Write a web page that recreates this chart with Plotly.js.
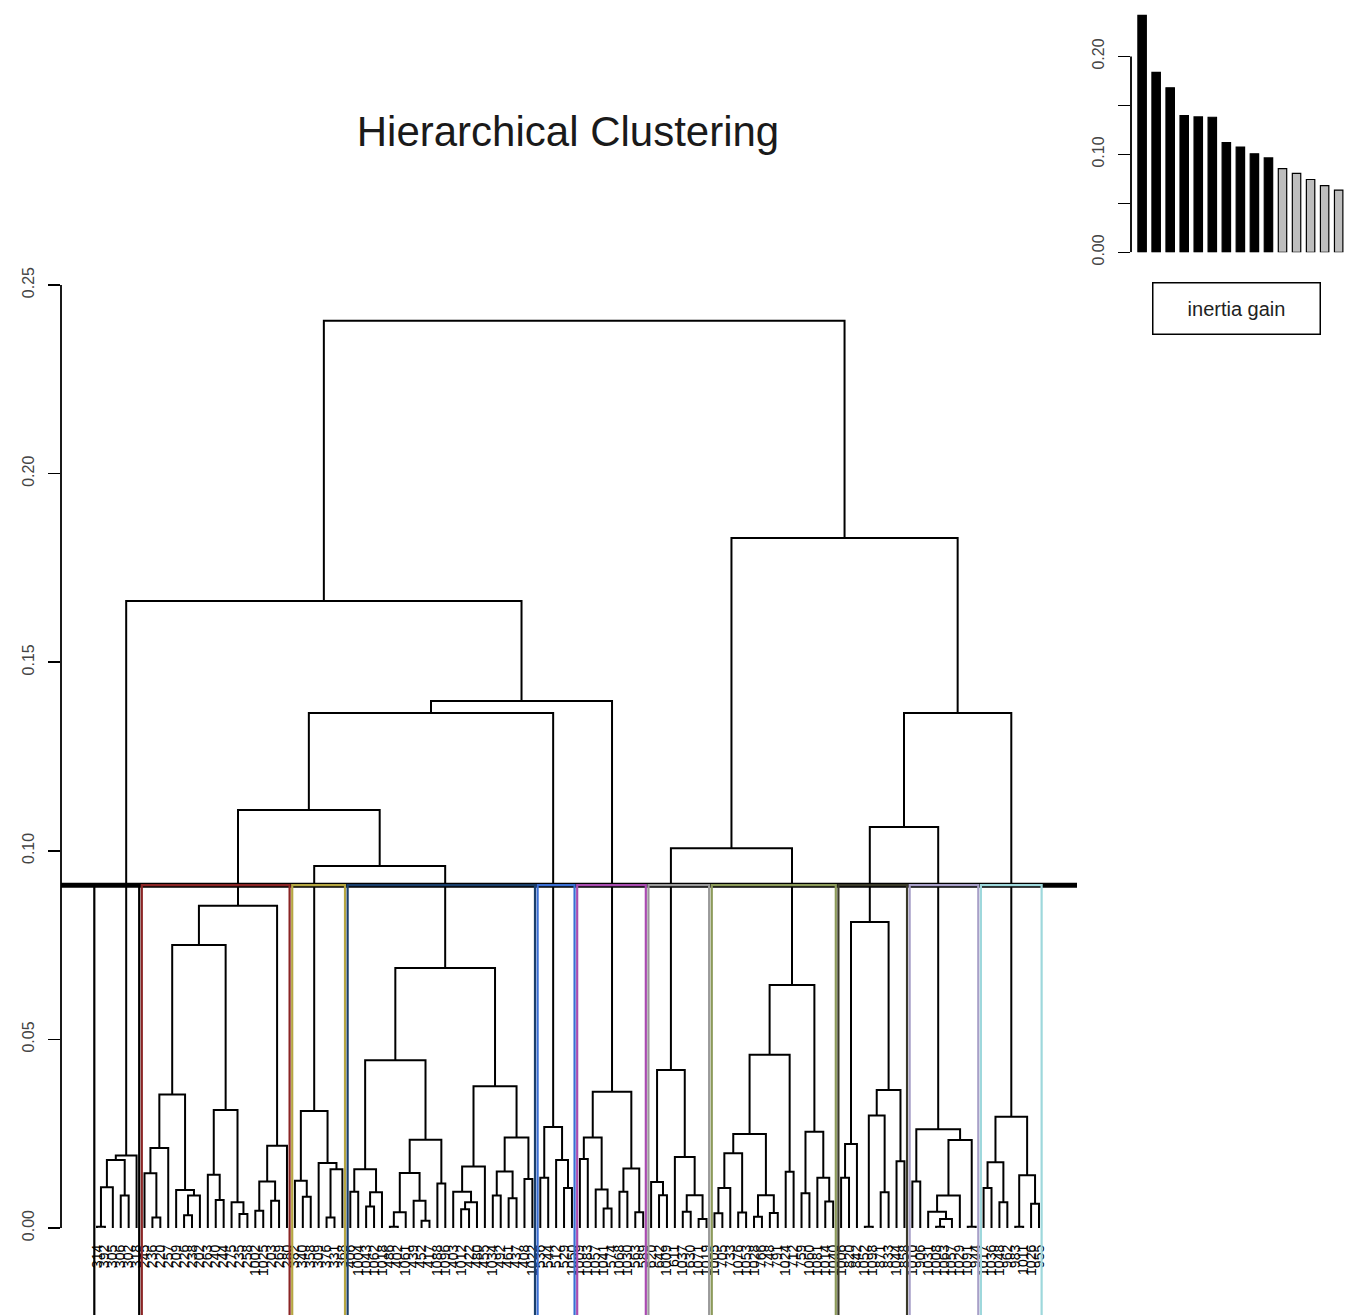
<!DOCTYPE html>
<html>
<head>
<meta charset="utf-8">
<script src="https://cdn.plot.ly/plotly-3.0.1.min.js"></script>
<style>html,body{margin:0;padding:0;background:#fff}#chart{width:1349px;height:1315px}</style>
</head>
<body>
<div id="chart"></div>
<script>
// ---------- DATA ----------
// dendrogram: leaf = 0, node = [left, right, mergeHeight]
const cluster1 = [[[[0,0,0.0003],0,0.0108],[0,0,0.0086],0.0180],0,0.0192];
const cluster2 = [[[[[0,[0,0,0.0028],0.0145],0,0.0212],[0,[[0,0,0.0034],0,0.0086],0.0101],0.0354],
                   [[0,[0,0,0.0074],0.0141],[0,[0,0,0.0037],0.0068],0.0313],0.0750],
                  [[[0,0,0.0046],[0,0,0.0072],0.0123],0,0.0218],0.0854];
const cluster3 = [[0,[0,0,0.0083],0.0125],[0,[[0,0,0.0028],0,0.0156],0.0172],0.0310];
const cluster4 = [[[[0,0,0.0096],[[0,0,0.0057],0,0.0095],0.0156],
                   [[[[0,0,0.0003],0,0.0042],[0,[0,0,0.0019],0.0072],0.0146],[0,0,0.0118],0.0234],0.0445],
                  [[[0,[[0,0,0.0050],0,0.0068],0.0096],0,0.0163],
                   [[[0,0,0.0086],[0,0,0.0079],0.0150],[0,0,0.0130],0.0240],0.0376],0.0689];
const cluster5 = [[0,0,0.0133],[0,[0,0,0.0106],0.0180],0.0268];
const cluster6 = [[[0,0,0.0183],[0,[0,0,0.0052],0.0102],0.0240],[[0,0,0.0096],[0,0,0.0042],0.0158],0.0361];
const cluster7 = [[0,[0,0,0.0087],0.0122],[0,[[0,0,0.0043],[0,0,0.0024],0.0087],0.0188],0.0419];
const cluster8 = [[[[[[0,0,0.0039],0,0.0106],[0,0,0.0041],0.0198],[[0,0,0.0030],[0,0,0.0040],0.0087],0.0249],[0,0,0.0149],0.0459],
                  [[0,0,0.0092],[0,[0,0,0.0070],0.0133],0.0255],0.0644];
const cluster9 = [[[0,0,0.0133],0,0.0223],[[[0,0,0.0003],[0,0,0.0095],0.0298],[0,0,0.0177],0.0366],0.0811];
const cluster10 = [[0,0,0.0123],[[[0,[[0,0,0.0003],0,0.0024],0.0043],0,0.0086],[0,0,0.0003],0.0233],0.0262];
const cluster11 = [[[0,0,0.0106],[0,0,0.0068],0.0174],[[0,0,0.0003],[0,0,0.0064],0.0140],0.0295];

const upperHeights = {c34:0.0960, c234:0.1108, c2345:0.1365, c23456:0.1397, left:0.1662,
                      c78:0.1007, c910:0.1063, c91011:0.1365, right:0.1829, root:0.2405};

const clusterColors = ["#000000","#8B2525","#B5A642","#1A3F6B","#3B6FD4","#A94CB0",
                       "#9A9A9A","#8C9A5A","#3A3A2A","#A8A0C8","#9ED8DC"];

const cutHeight = 0.0909;

const leafLabels = [
 "314","392","305","306","302","318",
 "245","236","220","257","209","226","238","202","263","240","244","275","235","258","1002","1025","203","269","280",
 "382","340","358","309","376","331","368",
 "406","1004","1043","1062","1018","486","402","1061","439","452","417","1088","1096","403","1012","422","480","455","1034","492","461","437","408","1022",
 "536","544","512","529","1050",
 "1009","1083","1057","1041","574","1068","1030","563","589",
 "620","642","1009","611","1037","630","1071","1019",
 "1005","705","733","1076","1053","1028","766","748","791","1024","712","759","1060","1081","1014","1040",
 "1006","820","842","1052","1098","871","833","1044","858",
 "1010","906","1031","1008","1063","1057","1029","1091","944",
 "1017","1036","1048","962","983","1011","1026","955"
];

const gainRank = [1,2,3,4,5,6,7,8,9,10,11,12,13,14,15];
const inertiaGain = [0.2419,0.1836,0.1679,0.1396,0.1382,0.1379,0.1120,0.1075,0.1005,0.0963,
                     0.0855,0.0806,0.0743,0.0681,0.0635];
const nbClusters = 11;

// ---------- BUILD TREE ----------
const clusters = [cluster1,cluster2,cluster3,cluster4,cluster5,cluster6,cluster7,cluster8,cluster9,cluster10,cluster11];
const U = upperHeights;
const tree = [
  [cluster1, [[[cluster2, [cluster3, cluster4, U.c34], U.c234], cluster5, U.c2345], cluster6, U.c23456], U.left],
  [[cluster7, cluster8, U.c78], [[cluster9, cluster10, U.c910], cluster11, U.c91011], U.right],
  U.root];

let leafCount = 0;
const segX = [], segY = [];
const clusterRange = new Map();
function walk(node){
  let res;
  if (node === 0){ leafCount++; res = {x:leafCount, h:0, first:leafCount, last:leafCount}; }
  else {
    const l = walk(node[0]), r = walk(node[1]), h = node[2];
    segX.push(l.x, l.x, r.x, r.x, null);
    segY.push(l.h, h, h, r.h, null);
    res = {x:(l.x+r.x)/2, h:h, first:l.first, last:r.last};
  }
  if (clusters.includes(node)) clusterRange.set(node, [res.first, res.last]);
  return res;
}
walk(tree);
const leafPos = leafLabels.map((_, i) => i + 1);

// ---------- GEOMETRY (pixels of the 1349x1315 page) ----------
const W = 1349, H = 1315;
const mainLeft = 61, mainRight = 1077;
const leaf1Px = 97, leafStep = 7.916;
const xr0 = 1 + (mainLeft - leaf1Px)/leafStep, xr1 = 1 + (mainRight - leaf1Px)/leafStep;
const y0Px = 1228, pxPerUnit = 3772, mainTop = 250;
const yr0 = (y0Px - H)/pxPerUnit, yr1 = (y0Px - mainTop)/pxPerUnit;

const insLeft = 1131, insRight = 1345, insStep = 14.04, bar1Px = 1142.1;
const ixr0 = 1 + (insLeft - bar1Px)/insStep, ixr1 = 1 + (insRight - bar1Px)/insStep;
const iy0Px = 252.3, iPxPerUnit = 979.5, insTop = 10;
const iyr1 = (iy0Px - insTop)/iPxPerUnit;

const fontFam = "Liberation Sans, Arial, sans-serif";

const traces = [
  {type:'scatter', mode:'lines', x:segX, y:segY, xaxis:'x', yaxis:'y',
   line:{color:'#000', width:2}, hoverinfo:'skip', showlegend:false, connectgaps:false},
  {type:'bar', x:gainRank, y:inertiaGain, xaxis:'x2', yaxis:'y2',
   marker:{color:inertiaGain.map((_, i) => i < nbClusters - 1 ? '#000000' : '#BEBEBE'),
           line:{color:'#000', width:1.2}}, showlegend:false, hoverinfo:'skip'}
];

const shapes = [
  {type:'line', xref:'paper', yref:'y', x0:mainLeft/W, x1:mainLeft/W, y0:0, y1:0.25, line:{color:'#000', width:1.8}},
  {type:'line', xref:'paper', yref:'y2', x0:insLeft/W, x1:insLeft/W, y0:0, y1:0.20, line:{color:'#000', width:1.8}},
  {type:'line', xref:'paper', yref:'y', x0:mainLeft/W, x1:mainRight/W, y0:cutHeight, y1:cutHeight, line:{color:'#000', width:5}}
];
clusters.forEach((c, k) => {
  const [f, l] = clusterRange.get(c);
  shapes.push({type:'rect', xref:'x', yref:'y', x0:f - 0.34, x1:l + 0.33, y0:yr0 - 0.01, y1:cutHeight,
               line:{color:clusterColors[k], width:2.2}, fillcolor:'rgba(0,0,0,0)'});
});

const layout = {
  width:W, height:H, margin:{l:0, r:0, t:0, b:0}, paper_bgcolor:'#fff', plot_bgcolor:'rgba(0,0,0,0)',
  font:{family:fontFam, color:'#222'},
  title:{text:'Hierarchical Clustering', font:{family:fontFam, size:42, color:'#1a1a1a'},
         x:568/W, xref:'paper', xanchor:'center', y:1 - 131/H, yref:'container', yanchor:'middle'},
  xaxis:{domain:[mainLeft/W, mainRight/W], range:[xr0, xr1], anchor:'free', position:1 - 1241/H,
         showgrid:false, zeroline:false, showline:false, ticks:'',
         tickmode:'array', tickvals:leafPos, ticktext:leafLabels, tickangle:-90,
         tickfont:{family:fontFam, size:14, color:'#000'}, automargin:false, fixedrange:true},
  yaxis:{domain:[0, 1 - mainTop/H], range:[yr0, yr1], anchor:'x',
         showgrid:false, zeroline:false, showline:false, ticks:'outside', ticklen:12, tickwidth:1.6, tickcolor:'#000',
         tickmode:'array', tickvals:[0,0.05,0.10,0.15,0.20,0.25], ticktext:['0.00','0.05','0.10','0.15','0.20','0.25'],
         tickangle:-90, ticklabelstandoff:8, tickfont:{family:fontFam, size:16, color:'#444'}, automargin:false},
  xaxis2:{domain:[insLeft/W, insRight/W], range:[ixr0, ixr1], anchor:'y2',
          showgrid:false, zeroline:false, showline:false, ticks:'', showticklabels:false, automargin:false},
  yaxis2:{domain:[1 - iy0Px/H, 1 - insTop/H], range:[0, iyr1], anchor:'x2',
          showgrid:false, zeroline:false, showline:false, ticks:'outside', ticklen:12, tickwidth:1.6, tickcolor:'#000',
          tickmode:'array', tickvals:[0,0.05,0.10,0.15,0.20], ticktext:['0.00','','0.10','','0.20'],
          tickangle:-90, ticklabelstandoff:8, tickfont:{family:fontFam, size:16, color:'#444'}, automargin:false},
  bargap:0.4,
  shapes:shapes,
  annotations:[
    {xref:'paper', yref:'paper', x:1236/W, y:1 - 309/H, xanchor:'center', yanchor:'middle', showarrow:false,
     text:'inertia gain', font:{family:fontFam, size:20, color:'#222'},
     width:166, height:50, bordercolor:'#000', borderwidth:1.5, borderpad:0, align:'center'}
  ]
};

Plotly.newPlot('chart', traces, layout, {staticPlot:true, displayModeBar:false});
</script>
</body>
</html>
